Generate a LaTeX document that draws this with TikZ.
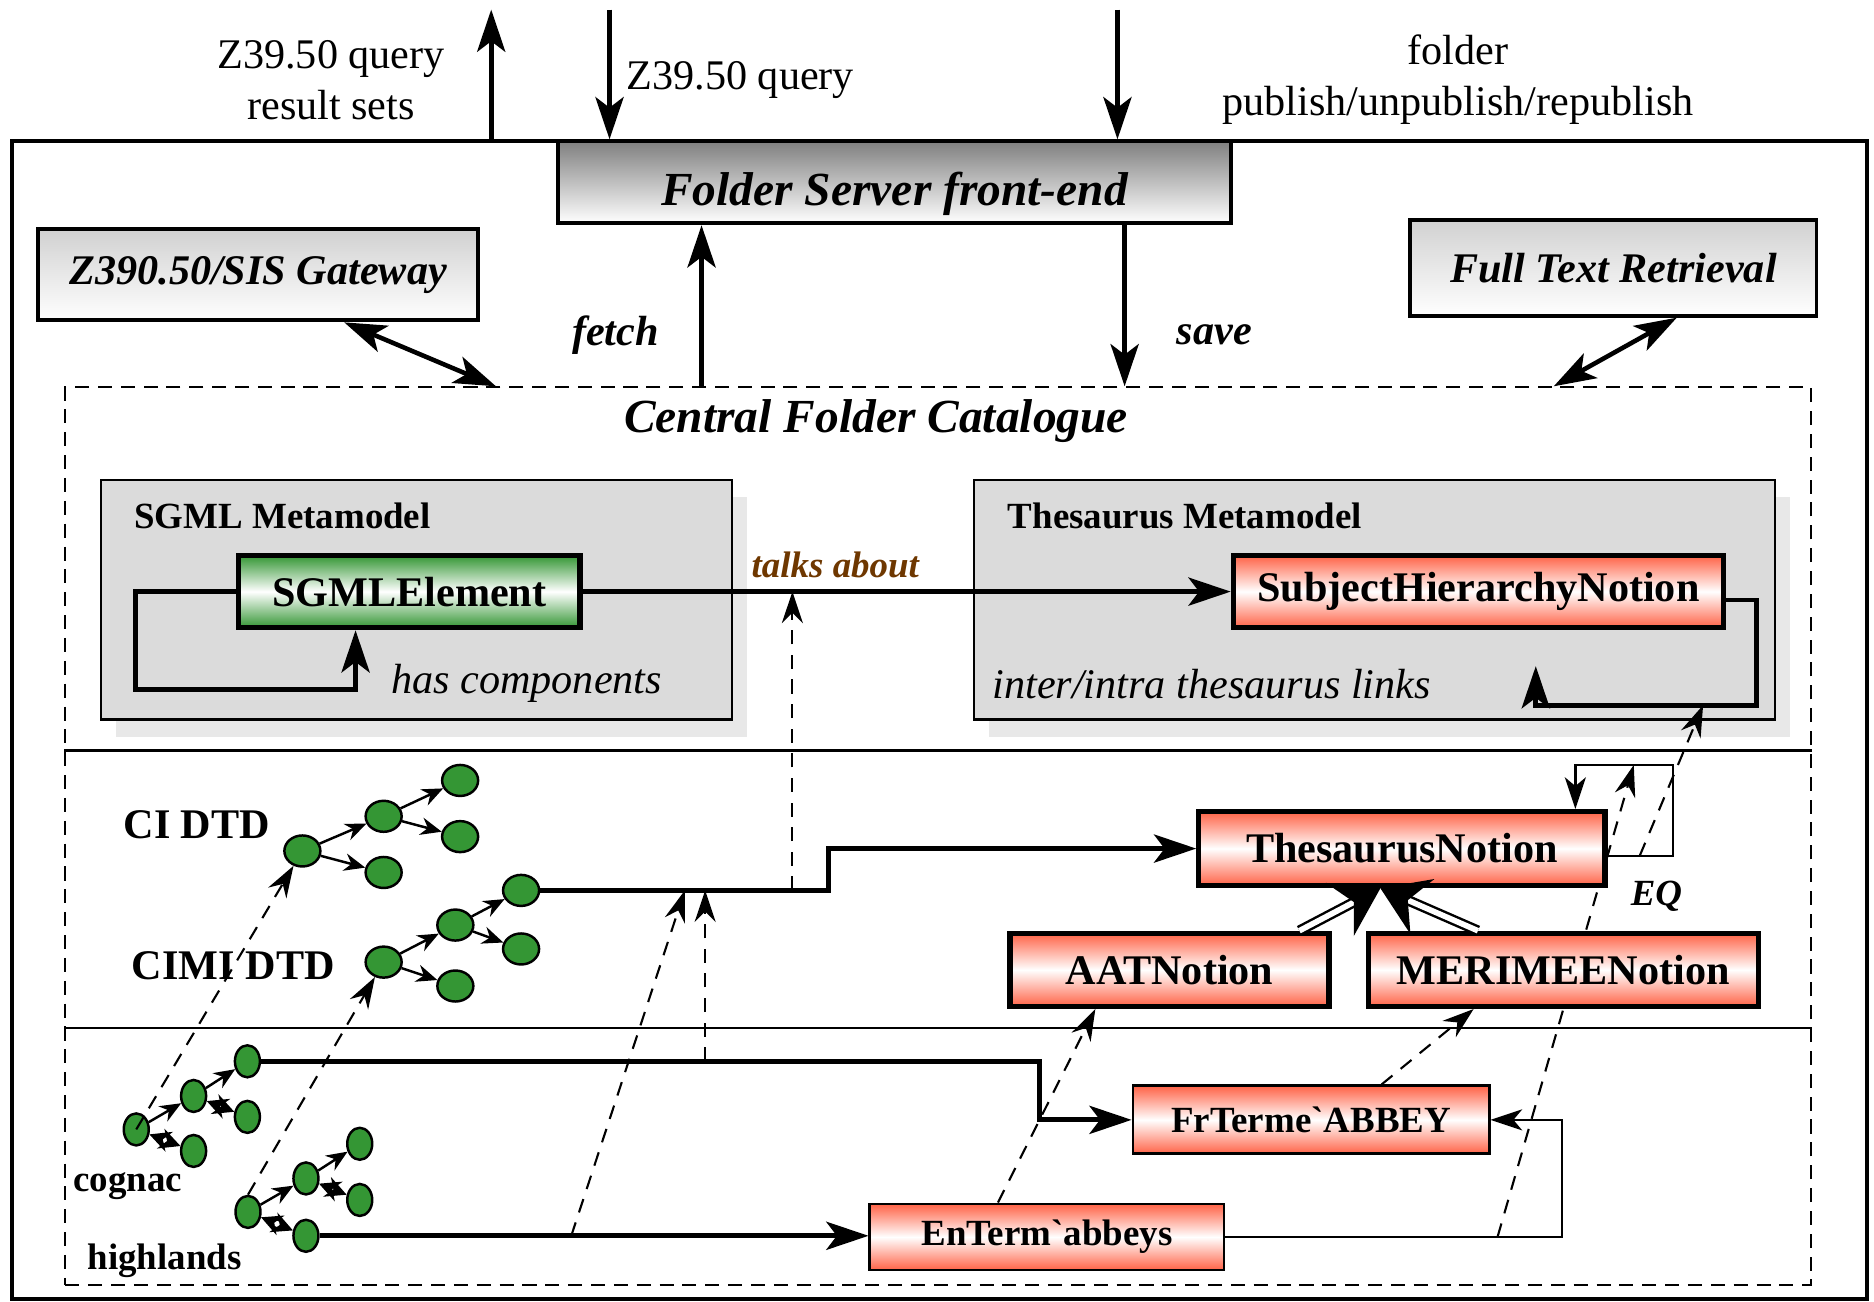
\documentclass[tikz,border=0pt]{standalone}
\usepackage{fontspec}
\setmainfont{Liberation Serif}
\usetikzlibrary{arrows.meta,calc,shadows,shapes.geometric}

\definecolor{leafgreen}{RGB}{52,150,52}
\definecolor{notionred}{RGB}{255,99,71}
\definecolor{linkbrown}{RGB}{110,55,0}

\tikzset{
  server/.style={draw, line width=1.1pt, top color=black!50, bottom color=white, inner sep=0pt,
    font=\fontsize{13.5}{16}\selectfont\bfseries\itshape, text height=16pt, text depth=3pt},
  tool/.style={draw, line width=1.1pt, top color=black!18, bottom color=white, inner sep=0pt,
    font=\fontsize{12}{14}\selectfont\bfseries\itshape},
  metamodel/.style={draw, line width=0.6pt, fill=black!14, inner sep=0pt,
    drop shadow={shadow xshift=0.15cm, shadow yshift=-0.17cm, fill=black!9, opacity=1}},
  sgmlclass/.style={draw, line width=1.5pt, top color=leafgreen, bottom color=leafgreen, middle color=white,
    inner sep=0pt, font=\fontsize{12}{14}\selectfont\bfseries},
  notion/.style={draw, line width=1.5pt, top color=notionred, bottom color=notionred, middle color=white,
    inner sep=0pt, font=\fontsize{12}{14}\selectfont\bfseries},
  term/.style={notion, line width=0.8pt, font=\fontsize{10.5}{12}\selectfont\bfseries},
  leaf/.style={ellipse, draw, line width=0.7pt, fill=leafgreen, minimum width=0.36cm, minimum height=0.31cm, inner sep=0pt},
  twig/.style={leaf, minimum width=0.25cm, minimum height=0.32cm},
  lbl/.style={font=\fontsize{12}{14.5}\selectfont, align=center},
  verb/.style={font=\fontsize{12}{14}\selectfont\bfseries\itshape},
  note/.style={font=\fontsize{12}{14}\selectfont\itshape},
  mmlabel/.style={font=\fontsize{10.5}{12}\selectfont\bfseries},
  dtd/.style={font=\fontsize{12}{14}\selectfont\bfseries},
  doclbl/.style={font=\fontsize{10.5}{12}\selectfont\bfseries},
  talk/.style={font=\fontsize{10.5}{12}\selectfont\bfseries\itshape, text=linkbrown},
  flow/.style={line width=1.4pt, -{Stealth[length=12pt, width=8pt, inset=3pt]}},
  both/.style={line width=1.3pt, {Stealth[length=12pt, width=8pt, inset=3pt]}-{Stealth[length=12pt, width=8pt, inset=3pt]}},
  relarr/.style={line width=0.7pt, -{Stealth[length=9pt, width=6pt, inset=2.5pt]}},
  dep/.style={dash pattern=on 4pt off 3pt, line width=0.6pt, -{Stealth[length=9pt, width=6pt, inset=3pt]}},
  isa/.style={double, double distance=1.6pt, line width=0.7pt, -{Stealth[length=13pt, width=17pt, inset=4.5pt]}},
  branch/.style={line width=0.7pt, -{Stealth[length=6pt, width=5pt]}},
  partof/.style={double, double distance=1.6pt, line width=0.6pt,
    {Stealth[length=6pt, width=6pt]}-{Stealth[length=6pt, width=6pt]}}
}

\begin{document}
\begin{tikzpicture}[x=0.01195cm, y=-0.01195cm]
\useasboundingbox (0,0) rectangle (1568,1089);

% outer frame and catalogue
\node[draw, line width=1.1pt, minimum width=18.55cm, minimum height=11.58cm, inner sep=0pt] (frame) at (786,602.5) {};
\node[draw, dash pattern=on 4pt off 2.5pt, line width=0.6pt, minimum width=17.45cm, minimum height=8.97cm, inner sep=0pt] (cat) at (785,699.5) {};
\coordinate (sepA) at (0,628);
\coordinate (sepB) at (0,860);
\draw[line width=0.7pt] (cat.west |- sepA) -- (cat.east |- sepA);
\draw[line width=0.7pt] (cat.west |- sepB) -- (cat.east |- sepB);

% EQ instance (drawn first, passes behind MERIMEENotion)
\coordinate (linkmid) at (1253,1035);
\coordinate (eqmid) at (1367,640);
\draw[dep] (linkmid) -- (eqmid);

% servers
\node[server, minimum width=6.73cm, minimum height=0.82cm] (front) at (748.5,152.5) {Folder Server front-end};
\node[tool, minimum width=4.40cm, minimum height=0.91cm] (gw) at (216,230) {Z390.50/SIS Gateway};
\node[tool, minimum width=4.06cm, minimum height=0.96cm] (ft) at (1350,224) {Full Text Retrieval};
\node[font=\fontsize{13.5}{16}\selectfont\bfseries\itshape] (cattitle) at (733,352) {Central Folder Catalogue};

% external requests
\coordinate (resout) at (411,8);
\coordinate (qin) at (510,8);
\coordinate (pubin) at (935,8);
\draw[flow] (frame.north -| resout) -- (resout);
\draw[flow] (qin) -- (front.north -| qin);
\draw[flow] (pubin) -- (front.north -| pubin);
\node[lbl] (reslbl) at (277,67) {Z39.50 query\\result sets};
\node[lbl, anchor=west] (qlbl) at (514,67) {Z39.50 query};
\node[lbl] (publbl) at (1220,67) {folder\\publish/unpublish/republish};

\coordinate (fetchx) at (587,0);
\coordinate (savex) at (941,0);
\draw[flow] (cat.north -| fetchx) -- (front.south -| fetchx);
\draw[flow] (front.south -| savex) -- (cat.north -| savex);
\node[verb] (fetchlbl) at (515,280) {fetch};
\node[verb] (savelbl) at (1016,280) {save};

\coordinate (gwx) at (415,0);
\coordinate (ftx) at (1300,0);
\draw[both] ($(gw.south)+(72,0)$) -- (cat.north -| gwx);
\draw[both] ($(ft.south)+(53,0)$) -- (cat.north -| ftx);

% metamodels
\node[metamodel, minimum width=6.30cm, minimum height=2.39cm] (sgmlmm) at (348.5,502) {};
\node[metamodel, minimum width=8.01cm, minimum height=2.39cm] (thesmm) at (1150,502) {};
\node[mmlabel, anchor=west] (sgmllbl) at (102,432) {SGML Metamodel};
\node[mmlabel, anchor=west] (theslbl) at (833,432) {Thesaurus Metamodel};
\node[sgmlclass, minimum width=3.41cm, minimum height=0.72cm] (sgmlel) at (342.5,495) {SGMLElement};
\node[notion, minimum width=4.90cm, minimum height=0.72cm] (shn) at (1237,495) {SubjectHierarchyNotion};

\draw[flow] (sgmlel.east) -- (shn.west) node[pos=0.39, above, talk] (talklbl) {talks about};
\coordinate (hcorner) at (113,577);
\draw[flow] (sgmlel.west) -| (hcorner) -| ($(sgmlel.south)+(-45,0)$);
\node[note, anchor=west] (haslbl) at (317,572) {has components};
\coordinate (scorner) at (1470,590);
\draw[flow] ($(shn.east)+(0,7)$) -| (scorner) -| ($(shn.south)+(48,30)$);
\node[note, anchor=west] (linkslbl) at (820,572) {inter/intra thesaurus links};

% DTDs
\node[dtd, anchor=west] (cilbl) at (93,690) {CI DTD};
\node[dtd, anchor=west] (cimilbl) at (100,808) {CIMI DTD};
\node[leaf] (ci0) at (253,712) {};
\node[leaf] (ci1) at (321,683) {};
\node[leaf] (ci2) at (321,730) {};
\node[leaf] (ci11) at (385,653) {};
\node[leaf] (ci12) at (385,700) {};
\node[leaf] (cm0) at (321,805) {};
\node[leaf] (cm1) at (381,774) {};
\node[leaf] (cm2) at (381,825) {};
\node[leaf] (cm11) at (436,745) {};
\node[leaf] (cm12) at (436,794) {};
\foreach \a/\b in {ci0/ci1, ci0/ci2, ci1/ci11, ci1/ci12, cm0/cm1, cm0/cm2, cm1/cm11, cm1/cm12}
  \draw[branch] (\a) -- (\b);

% thesauri
\node[notion, minimum width=4.06cm, minimum height=0.74cm] (thn) at (1173,710) {ThesaurusNotion};
\node[notion, minimum width=3.19cm, minimum height=0.73cm] (aat) at (978.5,811.5) {AATNotion};
\node[notion, minimum width=3.90cm, minimum height=0.73cm] (mer) at (1308,811.5) {MERIMEENotion};
\draw[isa] ($(aat.north east)+(-27,0)$) -- ($(thn.south)+(-18,0)$);
\draw[isa] ($(mer.north west)+(94,0)$) -- ($(thn.south)+(-18,0)$);
\coordinate (eqcorner) at (1400,640);
\draw[relarr] ($(thn.east)+(0,6)$) -| (eqcorner) -| ($(thn.north east)+(-27,0)$);
\node[verb, font=\fontsize{10.5}{12}\selectfont\bfseries\itshape] (eqlbl) at (1386,750) {EQ};

\coordinate (cmstep) at (693,745);
\draw[flow] (cm11.east) -- (cmstep) |- (thn.west);

% documents
\node[doclbl, anchor=west] (cognaclbl) at (51,992) {cognac};
\node[doclbl, anchor=west] (highlbl) at (63,1055) {highlands};
\node[twig] (cg0) at (114,945) {};
\node[twig] (cg1) at (162,917) {};
\node[twig] (cg2) at (162,963) {};
\node[twig] (cg11) at (207,888) {};
\node[twig] (cg12) at (207,934.5) {};
\node[twig] (hl0) at (207.5,1014) {};
\node[twig] (hl1) at (256,986) {};
\node[twig] (hl2) at (256,1034) {};
\node[twig] (hl11) at (301,957) {};
\node[twig] (hl12) at (301,1004) {};
\foreach \a/\b in {cg0/cg1, cg1/cg11, hl0/hl1, hl1/hl11}
  \draw[branch] (\a) -- (\b);
\foreach \a/\b in {cg0/cg2, cg1/cg12, hl0/hl2, hl1/hl12}
  \draw[partof] (\a) -- (\b);

\node[term, minimum width=3.56cm, minimum height=0.68cm] (fr) at (1097,937) {FrTerme\textasciigrave ABBEY};
\node[term, minimum width=3.54cm, minimum height=0.66cm] (en) at (876,1035) {EnTerm\textasciigrave abbeys};

\coordinate (cgstep) at (870,888);
\draw[flow] (cg11.east) -- (cgstep) |- (fr.west);
\draw[flow] (hl2.east) -- (hl2.east -| en.west);
\coordinate (encorner) at (1307,1035);
\draw[relarr] (en.east) -- (encorner) |- (fr.east);

% instance-of links
\draw[dep] (cg0.center) -- (ci0);
\draw[dep] (hl0.north) -- (cm0);
\coordinate (hlmid) at (478,1034);
\coordinate (cmmid) at (573,745);
\draw[dep] (hlmid) -- (cmmid);
\coordinate (cgmid) at (590,888);
\draw[dep] (cgmid) -- (cgmid |- cmmid);
\coordinate (cmtalk) at (663,745);
\draw[dep] (cmtalk) -- (cmtalk |- sgmlel.east);
\draw[dep] ($(en.north)+(-41,0)$) -- ($(aat.south)+(-62,0)$);
\draw[dep] ($(fr.north)+(59,0)$) -- ($(mer.south)+(-75,0)$);
\coordinate (eqlow) at (1372,716);
\coordinate (shnlow) at (1425,590);
\draw[dep] (eqlow) -- (shnlow);
\end{tikzpicture}
\end{document}
